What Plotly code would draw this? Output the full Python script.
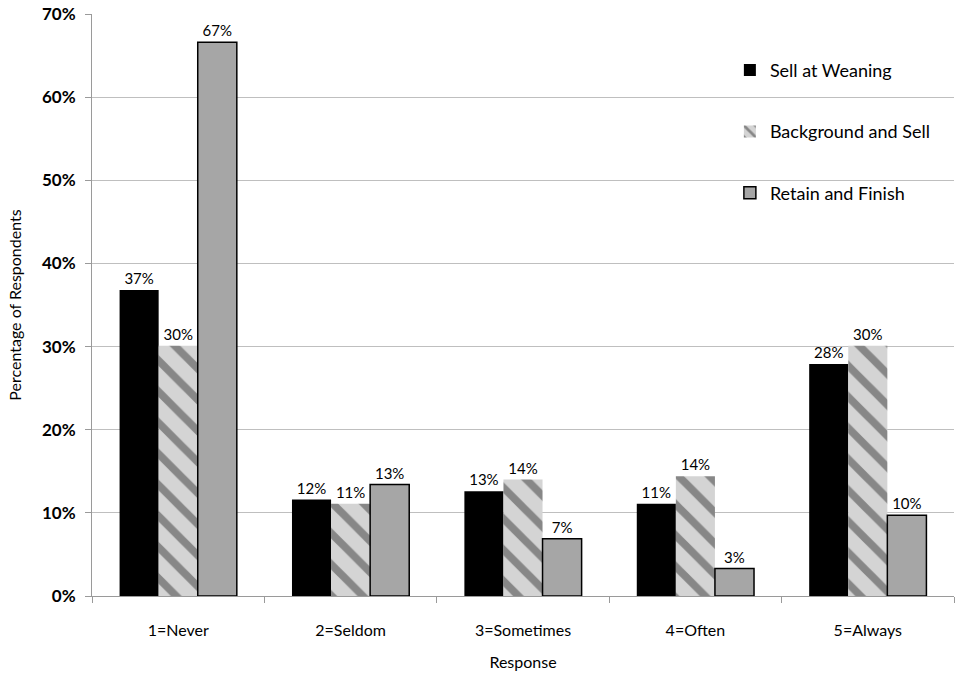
import plotly.graph_objects as go

# Survey responses: how often each marketing strategy is used
responses = ["1=Never", "2=Seldom", "3=Sometimes", "4=Often", "5=Always"]
sell_at_weaning = [0.368, 0.116, 0.126, 0.111, 0.279]
background_and_sell = [0.301, 0.111, 0.140, 0.144, 0.301]
retain_and_finish = [0.666, 0.134, 0.069, 0.033, 0.097]

font_family = "Lato, 'Open Sans', sans-serif"
label_font = dict(family=font_family, size=15, color="black")

fig = go.Figure()

fig.add_trace(go.Bar(
    name="Sell at Weaning", x=responses, y=sell_at_weaning,
    marker=dict(color="black", line=dict(width=0)),
    texttemplate="%{y:.0%}", textposition="outside", textfont=label_font,
    legendgroup="a", cliponaxis=False,
))
fig.add_trace(go.Bar(
    name="Background and Sell", x=responses, y=background_and_sell,
    marker=dict(
        color="#d4d4d4", line=dict(width=0),
        pattern=dict(shape="\\", fgcolor="#3a3a3a", bgcolor="#d4d4d4",
                     size=22, solidity=0.35, fillmode="overlay"),
    ),
    texttemplate="%{y:.0%}", textposition="outside", textfont=label_font,
    legendgroup="b", cliponaxis=False,
))
fig.add_trace(go.Bar(
    name="Retain and Finish", x=responses, y=retain_and_finish,
    marker=dict(color="#a6a6a6", line=dict(color="black", width=1.5)),
    texttemplate="%{y:.0%}", textposition="outside", textfont=label_font,
    legendgroup="c", cliponaxis=False,
))

fig.update_layout(
    width=957, height=676,
    margin=dict(l=92, r=3, t=14, b=80),
    paper_bgcolor="white", plot_bgcolor="white",
    barmode="group", bargap=0.32, bargroupgap=0,
    font=dict(family=font_family, size=16, color="black"),
    showlegend=True,
    legend=dict(
        x=0.74, y=0.935, xanchor="left", yanchor="top",
        bgcolor="rgba(0,0,0,0)", font=dict(size=18),
        traceorder="grouped", tracegroupgap=35,
        itemwidth=30,
    ),
    uniformtext=dict(minsize=15, mode="show"),
)

fig.update_yaxes(
    range=[0, 0.70], dtick=0.10, tickformat=".0%",
    tickfont=dict(family=font_family, size=17, color="black", weight="bold"),
    showgrid=True, gridcolor="#bfbfbf", gridwidth=1,
    showline=True, linecolor="#9a9a9a", linewidth=1,
    ticks="outside", ticklen=6, tickcolor="#9a9a9a", ticklabelstandoff=6,
    zeroline=False,
    title=dict(text="Percentage of Respondents", font=dict(size=16), standoff=16),
)
fig.update_xaxes(
    tickfont=dict(family=font_family, size=16, color="black"),
    showline=True, linecolor="#9a9a9a", linewidth=1,
    ticks="outside", ticklen=6, tickcolor="#9a9a9a", tickson="boundaries",
    ticklabelstandoff=20,
    title=dict(text="Response", font=dict(size=16), standoff=18),
)

fig.write_html("out.html")
